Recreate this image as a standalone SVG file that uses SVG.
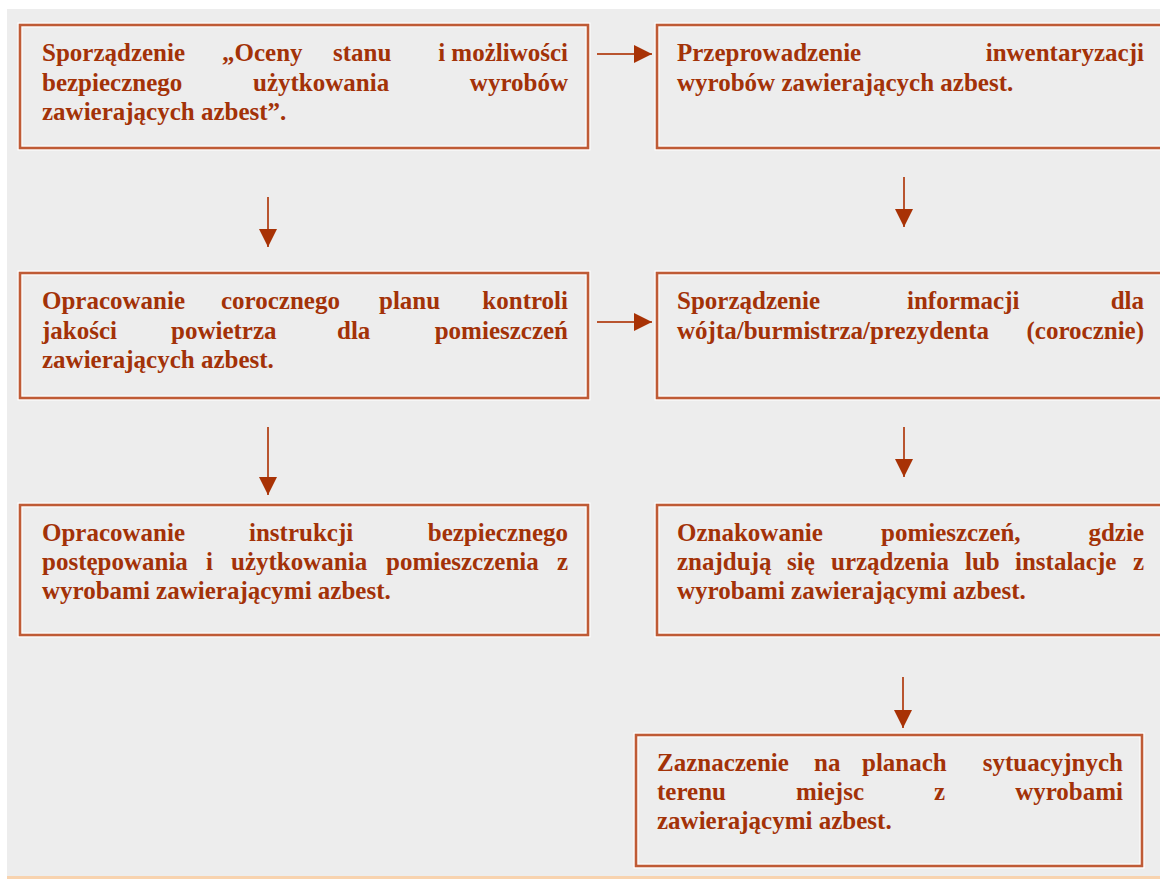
<svg xmlns="http://www.w3.org/2000/svg" width="1160" height="879" viewBox="0 0 1160 879">
<style>
.halo{fill:none;stroke:#ffffff;stroke-width:5}
.box{fill:none;stroke:#bf5b36;stroke-width:2.6}
.t{font-family:"Liberation Serif","Times New Roman",serif;font-weight:bold;font-size:25px;fill:#a33208}
.e{text-anchor:end}
.ln{stroke:#b9552f;stroke-width:2;fill:none}
</style>
<defs>
<marker id="ah2" viewBox="0 0 10 10" refX="10" refY="5" markerWidth="18" markerHeight="18" markerUnits="userSpaceOnUse" orient="auto">
<path d="M0,0 L10,5 L0,10 Z" fill="#a83205"/>
</marker>
</defs>
<rect x="0" y="0" width="1160" height="879" fill="#ffffff"/>
<rect x="7" y="9" width="1153" height="867" fill="#ededed"/>
<rect x="7" y="876" width="1153" height="3" fill="#f8d3af"/>

<g id="connectors">
<line class="ln" x1="597" y1="54" x2="652" y2="54" marker-end="url(#ah2)"/>
<line class="ln" x1="597" y1="322" x2="652" y2="322" marker-end="url(#ah2)"/>
<line class="ln" x1="268" y1="197" x2="268" y2="247" marker-end="url(#ah2)"/>
<line class="ln" x1="268" y1="427" x2="268" y2="495" marker-end="url(#ah2)"/>
<line class="ln" x1="904" y1="177" x2="904" y2="227" marker-end="url(#ah2)"/>
<line class="ln" x1="904" y1="427" x2="904" y2="477" marker-end="url(#ah2)"/>
<line class="ln" x1="903" y1="677" x2="903" y2="728" marker-end="url(#ah2)"/>
</g>

<g id="n1">
<rect class="halo" x="20" y="25" width="568" height="123"/>
<rect class="box" x="20" y="25" width="568" height="123"/>
<text class="t" y="61"><tspan x="42">Sporządzenie</tspan><tspan x="222">„Oceny</tspan><tspan x="333">stanu</tspan></text>
<text class="t e" x="568" y="61">i możliwości</text>
<text class="t" y="91"><tspan x="42">bezpiecznego</tspan><tspan x="253">użytkowania</tspan></text>
<text class="t e" x="568" y="91">wyrobów</text>
<text class="t" x="42" y="120">zawierających azbest”.</text>
</g>

<g id="n2">
<rect class="halo" x="657" y="25" width="520" height="123"/>
<rect class="box" x="657" y="25" width="520" height="123"/>
<text class="t" x="677" y="61">Przeprowadzenie</text>
<text class="t e" x="1144" y="61">inwentaryzacji</text>
<text class="t" x="677" y="91">wyrobów zawierających azbest.</text>
</g>

<g id="n3">
<rect class="halo" x="20" y="273" width="568" height="125"/>
<rect class="box" x="20" y="273" width="568" height="125"/>
<text class="t" y="309"><tspan x="42">Opracowanie</tspan><tspan x="221">corocznego</tspan><tspan x="379">planu</tspan></text>
<text class="t e" x="568" y="309">kontroli</text>
<text class="t" y="339"><tspan x="42">jakości</tspan><tspan x="171">powietrza</tspan><tspan x="337">dla</tspan></text>
<text class="t e" x="568" y="339">pomieszczeń</text>
<text class="t" x="42" y="368">zawierających azbest.</text>
</g>

<g id="n4">
<rect class="halo" x="657" y="273" width="520" height="125"/>
<rect class="box" x="657" y="273" width="520" height="125"/>
<text class="t" y="309"><tspan x="677">Sporządzenie</tspan><tspan x="907">informacji</tspan></text>
<text class="t e" x="1144" y="309">dla</text>
<text class="t" x="677" y="339">wójta/burmistrza/prezydenta</text>
<text class="t e" x="1144" y="339">(corocznie)</text>
</g>

<g id="n5">
<rect class="halo" x="20" y="505" width="568" height="130"/>
<rect class="box" x="20" y="505" width="568" height="130"/>
<text class="t" y="541"><tspan x="42">Opracowanie</tspan><tspan x="249">instrukcji</tspan></text>
<text class="t e" x="568" y="541">bezpiecznego</text>
<text class="t" y="570"><tspan x="42">postępowania</tspan><tspan x="206">i</tspan><tspan x="231">użytkowania</tspan><tspan x="386">pomieszczenia</tspan></text>
<text class="t e" x="568" y="570">z</text>
<text class="t" x="42" y="599">wyrobami zawierającymi azbest.</text>
</g>

<g id="n6">
<rect class="halo" x="657" y="505" width="520" height="130"/>
<rect class="box" x="657" y="505" width="520" height="130"/>
<text class="t" y="541"><tspan x="677">Oznakowanie</tspan><tspan x="881">pomieszczeń,</tspan></text>
<text class="t e" x="1144" y="541">gdzie</text>
<text class="t" y="570"><tspan x="677">znajdują</tspan><tspan x="787">się</tspan><tspan x="831">urządzenia</tspan><tspan x="965">lub</tspan><tspan x="1015">instalacje</tspan></text>
<text class="t e" x="1144" y="570">z</text>
<text class="t" x="677" y="599">wyrobami zawierającymi azbest.</text>
</g>

<g id="n7">
<rect class="halo" x="636" y="735" width="506" height="131"/>
<rect class="box" x="636" y="735" width="506" height="131"/>
<text class="t" y="771"><tspan x="657">Zaznaczenie</tspan><tspan x="814">na</tspan><tspan x="862">planach</tspan></text>
<text class="t e" x="1123" y="771">sytuacyjnych</text>
<text class="t" y="800"><tspan x="657">terenu</tspan><tspan x="796">miejsc</tspan><tspan x="934">z</tspan></text>
<text class="t e" x="1123" y="800">wyrobami</text>
<text class="t" x="657" y="829">zawierającymi azbest.</text>
</g>
</svg>
